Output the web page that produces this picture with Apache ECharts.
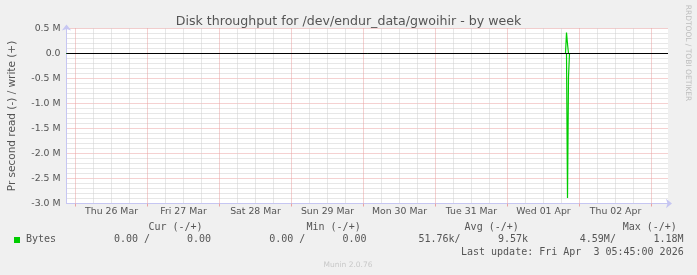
<!DOCTYPE html>
<html><head><meta charset="utf-8">
<style>html,body{margin:0;padding:0;background:#f0f0f0}#c{width:697px;height:275px}</style>
<script src="https://cdn.jsdelivr.net/npm/echarts@6/dist/echarts.min.js"></script>
</head><body><div id="c"></div>
<script>
// ---- data ----
const chartTitle = 'Disk throughput for /dev/endur_data/gwoihir - by week';
const yAxisTitle = 'Pr second read (-) / write (+)';
const dayLabels = ['Thu 26 Mar','Fri 27 Mar','Sat 28 Mar','Sun 29 Mar','Mon 30 Mar','Tue 31 Mar','Wed 01 Apr','Thu 02 Apr'];
const firstDay = '2026-03-26T00:00:00Z';
const rangeStart = '2026-03-25T21:00:00Z';
const rangeEnd = '2026-04-03T05:30:00Z';
const yTickValues = [500000, 0, -500000, -1000000, -1500000, -2000000, -2500000, -3000000];
const yTickLabels = ['0.5 M', '0.0', '-0.5 M', '-1.0 M', '-1.5 M', '-2.0 M', '-2.5 M', '-3.0 M'];
const writeTimes = ['2026-03-25T21:00:00Z','2026-04-01T19:20:00Z','2026-04-01T19:40:00Z','2026-04-01T20:00:00Z','2026-04-01T20:20:00Z','2026-04-03T05:30:00Z'];
const writeBytes = [0, 0, 420000, 190000, 0, 0];
const readTimes = ['2026-03-25T21:00:00Z','2026-04-01T19:40:00Z','2026-04-01T20:00:00Z','2026-04-01T20:20:00Z','2026-04-01T20:40:00Z','2026-04-02T02:20:00Z','2026-04-02T02:40:00Z','2026-04-02T03:00:00Z','2026-04-03T05:30:00Z'];
const readBytes = [0, 0, 2890000, 470000, 0, 0, 30000, 0, 0];
const seriesName = 'Bytes';
const legendHeaders = ['Cur (-/+)', 'Min (-/+)', 'Avg (-/+)', 'Max (-/+)'];
const legendRead = ['0.00', '0.00', '51.76k', '4.59M'];
const legendWrite = ['0.00', '0.00', '9.57k', '1.18M'];
const lastUpdate = 'Last update: Fri Apr  3 05:45:00 2026';
const footer = 'Munin 2.0.76';
const watermark = 'RRDTOOL / TOBI OETIKER';

// ---- derived ----
const HOUR = 3600000, DAY = 24 * HOUR;
const ms = s => Date.parse(s);
const T0 = ms(firstDay), xMin = ms(rangeStart), xMax = ms(rangeEnd);
const midnights = [], quarters = [], noons = [];
for (let t = T0 - DAY; t <= xMax; t += 6 * HOUR) {
  if (t < xMin) continue;
  if ((t - T0) % DAY === 0) midnights.push(t); else quarters.push(t);
}
dayLabels.forEach((d, i) => noons.push(T0 + i * DAY + 12 * HOUR));

const FONT = 'DejaVu Sans', MONO = 'DejaVu Sans Mono';
const GREEN = '#00cc00', TXT = '#555555';
const MAJ = '#eaa2a2', MIN = '#cfcfcf', AXC = '#c6c6f2';
const unitPad = s => /[kMG]$/.test(s) ? s : s + ' ';

const graphics = [
  { type: 'rect', shape: { x: 14, y: 237, width: 6, height: 6 }, style: { fill: GREEN } },
  { type: 'text', x: 26, y: 239.5, style: { text: seriesName, font: '10px "' + MONO + '"', fill: TXT, align: 'left', verticalAlign: 'middle' } },
  { type: 'text', x: 683.7, y: 252, style: { text: lastUpdate, font: '10px "' + MONO + '"', fill: TXT, align: 'right', verticalAlign: 'middle' } },
  { type: 'text', x: 348, y: 265, style: { text: footer, font: '7.5px "' + FONT + '"', fill: '#c8c8c8', align: 'center', verticalAlign: 'middle' } },
  { type: 'text', x: 688.3, y: 53, rotation: -Math.PI / 2, style: { text: watermark, font: '7.5px "' + FONT + '"', fill: '#bdbdbd', align: 'center', verticalAlign: 'middle' } }
];
legendHeaders.forEach((h, i) => {
  graphics.push({ type: 'text', x: 148.4 + i * 158.1, y: 227.5, style: { text: h, font: '10px "' + MONO + '"', fill: TXT, align: 'left', verticalAlign: 'middle' } });
  graphics.push({ type: 'text', x: 150 + i * 155.3, y: 239.5, style: { text: unitPad(legendRead[i]) + '/', font: '10px "' + MONO + '"', fill: TXT, align: 'right', verticalAlign: 'middle' } });
  graphics.push({ type: 'text', x: 217 + i * 155.5, y: 239.5, style: { text: unitPad(legendWrite[i]), font: '10px "' + MONO + '"', fill: TXT, align: 'right', verticalAlign: 'middle' } });
});

const chart = echarts.init(document.getElementById('c'), null, { renderer: 'canvas', width: 697, height: 275 });
chart.setOption({
  animation: false,
  backgroundColor: '#f0f0f0',
  title: { text: chartTitle, left: 'center', top: 10, textStyle: { fontFamily: FONT, fontSize: 12.6, fontWeight: 'normal', color: TXT } },
  grid: { left: 66.5, right: 29, top: 28.5, bottom: 71.5, show: true, backgroundColor: '#ffffff', borderWidth: 0, containLabel: false, outerBoundsMode: 'none' },
  xAxis: [{
    type: 'value', min: xMin, max: xMax, position: 'bottom',
    axisLine: { show: false, onZero: false },
    axisTick: { show: true, customValues: quarters, length: 0, lineStyle: { color: MIN } },
    axisLabel: { show: false },
    splitLine: { show: true, lineStyle: { color: MIN, type: [1, 1], width: 1 } }
  }, {
    type: 'value', min: xMin, max: xMax, position: 'bottom',
    axisLine: { show: true, onZero: false, lineStyle: { color: AXC, width: 1 }, symbol: ['none', 'arrow'], symbolSize: [7, 6], symbolOffset: [0, 4] },
    axisTick: { show: true, customValues: midnights, length: 3, lineStyle: { color: MAJ } },
    axisLabel: { customValues: noons, margin: 4, fontFamily: FONT, fontSize: 9.33, color: TXT,
      formatter: v => dayLabels[Math.round((v - T0 - 12 * HOUR) / DAY)] },
    splitLine: { show: true, lineStyle: { color: MAJ, type: [1, 1], width: 1 } }
  }],
  yAxis: {
    type: 'value', min: -3000000, max: 500000, interval: 500000,
    name: yAxisTitle, nameLocation: 'middle', nameGap: 49,
    nameTextStyle: { fontFamily: FONT, fontSize: 10.5, color: TXT },
    axisLine: { show: true, onZero: false, lineStyle: { color: AXC, width: 1 }, symbol: ['none', 'arrow'], symbolSize: [7, 6], symbolOffset: [0, 4] },
    axisTick: { show: false },
    axisLabel: { margin: 6, fontFamily: FONT, fontSize: 9.33, color: TXT,
      formatter: v => yTickLabels[yTickValues.indexOf(v)] },
    splitLine: { show: true, lineStyle: { color: MAJ, type: [1, 1], width: 1 } },
    minorTick: { show: true, splitNumber: 5, length: 0 },
    minorSplitLine: { show: true, lineStyle: { color: MIN, type: [1, 1], width: 1 } }
  },
  series: [
    { type: 'line', name: 'write', xAxisIndex: 1, data: writeTimes.map((t, i) => [ms(t), writeBytes[i]]),
      showSymbol: false, silent: true, lineStyle: { color: GREEN, width: 1.2 }, itemStyle: { color: GREEN }, z: 3 },
    { type: 'line', name: 'read', xAxisIndex: 1, data: readTimes.map((t, i) => [ms(t), -readBytes[i]]),
      showSymbol: false, silent: true, lineStyle: { color: GREEN, width: 1.2 }, itemStyle: { color: GREEN }, z: 3 },
    { type: 'line', name: 'zero', xAxisIndex: 1, data: [[xMin, 0], [xMax, 0]],
      showSymbol: false, silent: true, lineStyle: { color: '#000000', width: 1 }, itemStyle: { color: '#000' }, z: 4 }
  ],
  graphic: graphics
});
</script></body></html>
